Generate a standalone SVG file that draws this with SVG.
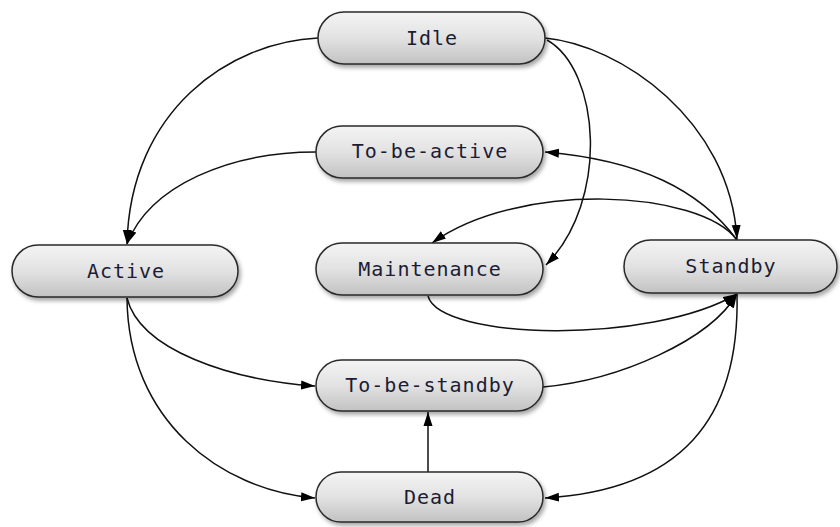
<svg xmlns="http://www.w3.org/2000/svg" width="840" height="527" viewBox="0 0 840 527">
<defs>
<linearGradient id="g" x1="0" y1="0" x2="0" y2="1">
<stop offset="0" stop-color="#f4f4f4"/>
<stop offset="0.5" stop-color="#e2e2e2"/>
<stop offset="1" stop-color="#c2c2c2"/>
</linearGradient>
<filter id="sh" x="-10%" y="-30%" width="120%" height="170%">
<feDropShadow dx="2" dy="3" stdDeviation="2" flood-color="#000" flood-opacity="0.35"/>
</filter>
<marker id="ah" markerUnits="userSpaceOnUse" markerWidth="14" markerHeight="10" refX="14" refY="5" orient="auto">
<path d="M0,0.5 L14,5 L0,9.5 z" fill="#000"/>
</marker>
</defs>
<style>
.n rect{fill:url(#g);stroke:#2a2a2a;stroke-width:1.5;filter:url(#sh)}
.n text{font-family:"DejaVu Sans Mono","Liberation Mono",monospace;font-size:20px;letter-spacing:1px;fill:#1c1c34;text-anchor:middle}
.e path{fill:none;stroke:#111;stroke-width:1.5;marker-end:url(#ah)}
</style>
<g id="connectors" class="e">
<path d="M318,38 C230,42 130,110 127,244"/>
<path d="M316,152 C230,152 150,185 127,244"/>
<path d="M545,38 C620,45 730,120 737,239"/>
<path d="M547,40 C600,70 610,200 546,265"/>
<path d="M737,240 C700,190 640,160 545,152"/>
<path d="M737,240 C700,190 520,180 432,243"/>
<path d="M428,296 C440,340 650,345 737,294"/>
<path d="M543,387 C620,380 710,340 737,294"/>
<path d="M737,294 C740,420 680,490 545,498"/>
<path d="M127,298 C140,350 230,380 315,386"/>
<path d="M127,298 C128,420 220,490 315,498"/>
<path d="M428,472 L428,412"/>
</g>
<g id="idle" class="n"><rect x="318" y="12" width="227" height="52" rx="26"/><text x="432" y="45">Idle</text></g>
<g id="to-be-active" class="n"><rect x="316" y="126" width="227" height="52" rx="26"/><text x="430" y="158">To-be-active</text></g>
<g id="active" class="n"><rect x="12" y="245" width="226" height="52" rx="26"/><text x="126" y="278">Active</text></g>
<g id="maintenance" class="n"><rect x="316" y="243" width="227" height="52" rx="26"/><text x="430" y="276">Maintenance</text></g>
<g id="standby" class="n"><rect x="624" y="240" width="213" height="53" rx="26.5"/><text x="731" y="273">Standby</text></g>
<g id="to-be-standby" class="n"><rect x="316" y="360" width="227" height="51" rx="25.5"/><text x="430" y="392">To-be-standby</text></g>
<g id="dead" class="n"><rect x="316" y="472" width="227" height="50" rx="25"/><text x="430" y="504">Dead</text></g>
</svg>
